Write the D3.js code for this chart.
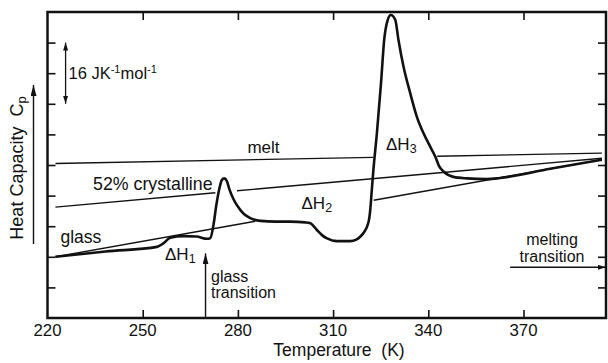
<!DOCTYPE html>
<html>
<head>
<meta charset="utf-8">
<script src="https://cdn.jsdelivr.net/npm/d3@7"></script>
<style>
  html, body { margin: 0; padding: 0; background: #fff; }
  svg text { font-family: "Liberation Sans", Arial, sans-serif; fill: #111; white-space: pre; }
</style>
</head>
<body>
<svg id="chart" width="608" height="363"></svg>
<script>
// Temperature axis (K) and heat-capacity grid (arbitrary offset, 8 J K^-1 mol^-1 per tick)
const tempTicks = [250, 280, 310, 340, 370];
const tempLabels = [220, 250, 280, 310, 340, 370];
const cpTicks = [8, 16, 24, 32, 40, 48, 56, 64, 72];

// Measured heat capacity on heating
const curveT  = [222.5, 238.3, 254.5, 256.5, 258.7, 262.8, 266.9, 270.3, 271.3, 272.3, 273.2, 274.2, 274.9, 275.7, 276.5, 277.3, 278.7, 280.8, 282.3, 283.9, 287.1, 291.8, 296.5, 301.2, 302.8, 304.9, 306.6, 308.1, 311.2, 315.4, 317.3, 318.6, 319.8, 320.7, 321.4, 321.7, 322.2, 322.7, 323.8, 325.1, 326.1, 327.2, 328.2, 329.6, 330.6, 332.2, 334.3, 336.4, 338.5, 340.6, 342.2, 343.4, 344.8, 347.9, 352.2, 358.5, 362.6, 378.4, 394.7];
const curveCp = [16.0, 17.4, 18.6, 19.5, 21.0, 21.4, 21.3, 20.7, 20.9, 24.3, 29.5, 34.0, 36.0, 36.5, 35.8, 33.7, 30.9, 28.2, 26.9, 26.1, 25.4, 25.2, 25.2, 25.0, 24.8, 23.0, 21.6, 20.8, 20.1, 20.1, 20.5, 21.3, 22.5, 23.9, 26.1, 28.2, 33.5, 38.7, 48.3, 61.4, 72.7, 77.9, 79.2, 77.9, 72.7, 65.7, 58.8, 52.6, 48.3, 44.8, 42.2, 39.7, 38.3, 36.9, 36.5, 36.3, 36.6, 39.0, 41.4];

// Reference baselines, drawn as straight segments [T, Cp]
const meltLine = [[[222.5, 40.4], [322.6, 42.0]], [[342.8, 42.3], [394.7, 43.1]]];
const crystallineLine = [[[222.5, 29.0], [272.9, 32.75]], [[279.7, 33.25], [394.7, 41.75]]];
const glassLine = [[[222.5, 16.0], [285.5, 25.3]], [[322.8, 30.8], [394.7, 41.4]]];

// Annotation anchors
const scaleBar = { T: 225.7, from: 56, to: 72 };
const glassTransition = { T: 269.8, tip: 16.9 };
const meltingTransition = { Cp: 13.25, from: 365.8 };

const svg = d3.select("#chart");
const plotL = 47.5, plotR = 606, plotT = 12, plotB = 318;
const x = d3.scaleLinear().domain([220, 396]).range([plotL, plotR]);
const y = d3.scaleLinear().domain([0, 80]).range([plotB, plotT]);

const defs = svg.append("defs");
function marker(id, w, h) {
  defs.append("marker").attr("id", id)
    .attr("viewBox", `0 0 ${h} ${w}`).attr("refX", h).attr("refY", w / 2)
    .attr("markerWidth", h).attr("markerHeight", w).attr("markerUnits", "userSpaceOnUse")
    .attr("orient", "auto-start-reverse")
    .append("path").attr("d", `M0,0L${h},${w / 2}L0,${w}Z`).attr("fill", "#111");
}
marker("head", 6, 11);
marker("headSmall", 5, 8);

// Axes with inward ticks on all four sides
const tickLen = 8;
svg.append("g").attr("transform", `translate(0,${plotB})`)
  .call(d3.axisBottom(x).tickValues(tempTicks).tickSize(-tickLen).tickFormat(""));
svg.append("g").attr("transform", `translate(0,${plotT})`)
  .call(d3.axisTop(x).tickValues(tempTicks).tickSize(-tickLen).tickFormat(""));
svg.append("g").attr("transform", `translate(${plotL},0)`)
  .call(d3.axisLeft(y).tickValues(cpTicks).tickSize(-tickLen).tickFormat(""));
svg.append("g").attr("transform", `translate(${plotR},0)`)
  .call(d3.axisRight(y).tickValues(cpTicks).tickSize(-tickLen).tickFormat(""));
svg.selectAll(".domain").remove();
svg.selectAll(".tick line").attr("stroke", "#111").attr("stroke-width", 1.6);

svg.append("rect").attr("x", plotL).attr("y", plotT)
  .attr("width", plotR - plotL).attr("height", plotB - plotT)
  .attr("fill", "none").attr("stroke", "#111").attr("stroke-width", 2.5);

// Tick labels
svg.append("g").selectAll("text").data(tempLabels).join("text")
  .attr("x", d => x(d)).attr("y", 336).attr("text-anchor", "middle")
  .attr("font-size", 16.8).text(d => d);

// Baselines
const line = d3.line().x(d => x(d[0])).y(d => y(d[1]));
[meltLine, crystallineLine, glassLine].forEach(segs => {
  svg.append("g").selectAll("path").data(segs).join("path")
    .attr("d", line).attr("fill", "none").attr("stroke", "#111").attr("stroke-width", 1.4);
});

// Heat capacity curve
const cpData = curveT.map((t, i) => [t, curveCp[i]]);
svg.append("path").datum(cpData)
  .attr("d", d3.line().x(d => x(d[0])).y(d => y(d[1])).curve(d3.curveMonotoneX))
  .attr("fill", "none").attr("stroke", "#111").attr("stroke-width", 2.6)
  .attr("stroke-linejoin", "round");

// Scale bar: 16 J K^-1 mol^-1
svg.append("line")
  .attr("x1", x(scaleBar.T)).attr("x2", x(scaleBar.T))
  .attr("y1", y(scaleBar.from)).attr("y2", y(scaleBar.to))
  .attr("stroke", "#111").attr("stroke-width", 1.3)
  .attr("marker-start", "url(#headSmall)").attr("marker-end", "url(#headSmall)");
const sb = svg.append("text").attr("x", 68.5).attr("y", 79).attr("font-size", 16.5);
sb.append("tspan").text("16 JK");
sb.append("tspan").attr("font-size", 11).attr("dy", -6).text("-1");
sb.append("tspan").attr("dy", 6).text("mol");
sb.append("tspan").attr("font-size", 11).attr("dy", -6).text("-1");

// Glass transition arrow
svg.append("line")
  .attr("x1", x(glassTransition.T)).attr("x2", x(glassTransition.T))
  .attr("y1", y(0)).attr("y2", y(glassTransition.tip))
  .attr("stroke", "#111").attr("stroke-width", 1.4).attr("marker-end", "url(#head)");
svg.append("text").attr("x", 211).attr("y", 281.5).attr("font-size", 16).text("glass");
svg.append("text").attr("x", 211).attr("y", 297.8).attr("font-size", 16).text("transition");

// Melting transition arrow
svg.append("line")
  .attr("x1", x(meltingTransition.from)).attr("x2", x(396))
  .attr("y1", y(meltingTransition.Cp)).attr("y2", y(meltingTransition.Cp))
  .attr("stroke", "#111").attr("stroke-width", 1.4).attr("marker-end", "url(#headSmall)");
svg.append("text").attr("x", 552).attr("y", 245).attr("text-anchor", "middle").attr("font-size", 16).text("melting");
svg.append("text").attr("x", 552).attr("y", 261.7).attr("text-anchor", "middle").attr("font-size", 16).text("transition");

// Curve labels
svg.append("text").attr("x", 263.5).attr("y", 153).attr("text-anchor", "middle").attr("font-size", 17).text("melt");
svg.append("text").attr("x", 93).attr("y", 190).attr("font-size", 17.8).text("52% crystalline");
svg.append("text").attr("x", 60.5).attr("y", 243).attr("font-size", 17.5).text("glass");

function deltaH(px, py, sub) {
  const t = svg.append("text").attr("x", px).attr("y", py).attr("font-size", 17);
  t.append("tspan").text("\u0394H");
  t.append("tspan").attr("font-size", 12.5).attr("dy", 3).text(sub);
}
deltaH(165, 260, "1");
deltaH(301.5, 208.5, "2");
deltaH(386, 150, "3");

// Axis titles
svg.append("text").attr("x", 339).attr("y", 356).attr("text-anchor", "middle")
  .attr("font-size", 17.5).text("Temperature  (K)");
const yl = svg.append("text").attr("transform", "translate(23,168) rotate(-90)")
  .attr("text-anchor", "middle").attr("font-size", 18);
yl.append("tspan").text("Heat Capacity  C");
yl.append("tspan").attr("font-size", 13).attr("dy", 3).text("p");

// Cp direction arrow beside the axis title
svg.append("line").attr("x1", 33.5).attr("x2", 33.5).attr("y1", 244).attr("y2", 85)
  .attr("stroke", "#111").attr("stroke-width", 1.4).attr("marker-end", "url(#head)");
</script>
</body>
</html>
